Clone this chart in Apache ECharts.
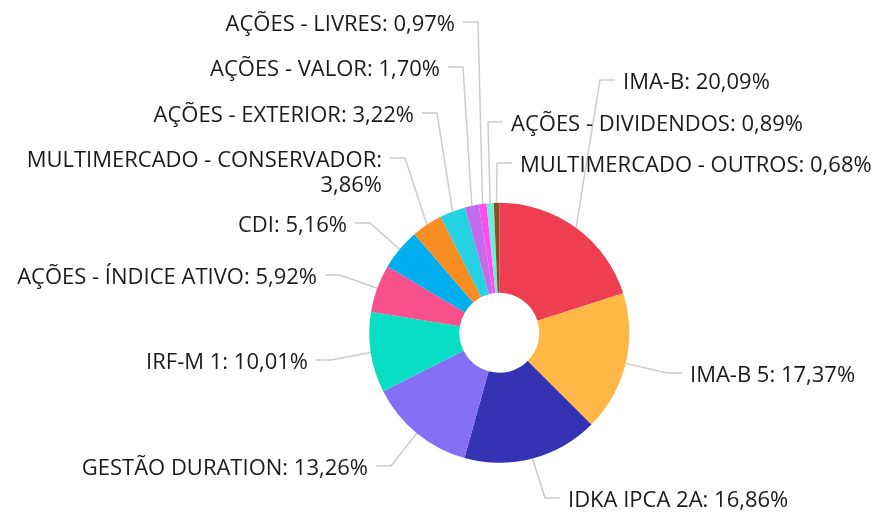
<!DOCTYPE html>
<html>
<head>
<meta charset="utf-8">
<style>
  html, body { margin: 0; padding: 0; background: #fff; }
  #chart { width: 876px; height: 512px; }
</style>
<script src="https://cdn.jsdelivr.net/npm/echarts@6/dist/echarts.min.js"></script>
</head>
<body>
<div id="chart"></div>
<script>
// Allocation by fund class, clockwise from 12 o'clock.
const CATEGORIES = [
  'IMA-B', 'IMA-B 5', 'IDKA IPCA 2A', 'GESTÃO DURATION', 'IRF-M 1',
  'AÇÕES - ÍNDICE ATIVO', 'CDI', 'MULTIMERCADO - CONSERVADOR',
  'AÇÕES - EXTERIOR', 'AÇÕES - VALOR', 'AÇÕES - LIVRES',
  'AÇÕES - DIVIDENDOS', 'MULTIMERCADO - OUTROS',
];
const SHARES = [20.09, 17.37, 16.86, 13.26, 10.01, 5.92, 5.16, 3.86, 3.22, 1.70, 0.97, 0.89, 0.68];

const COLORS = [
  '#EF3E52', '#FFB845', '#3333B3', '#8470F5', '#08DEC4', '#F7508A', '#00AEEF',
  '#F78C23', '#25D2E4', '#C46BEB', '#FF4BF0', '#6FEBD6', '#8B4D24',
];

const INK = '#1A1A1A';
const LINE = '#CCCCCC';
const FONT = 22;
const LINE_H = 25;

// Label callouts: where the connector ends (x, y) and which side the text sits.
// The source chart spreads labels in columns, which ECharts' own pie layout doesn't do.
const CALLOUTS = [
  [615, 80, 'R'], [682, 373, 'R'], [560, 498, 'R'], [376, 466, 'L'],
  [316, 360, 'L'], [325, 275, 'L'], [355, 223, 'L'], [390, 158, 'L'],
  [422, 113, 'L'], [448, 67, 'L'], [463, 22, 'L'], [503, 122, 'R'],
  [512, 163, 'R'],
];
const ARM = 15;  // horizontal leg of the connector
const GAP = 8;   // connector end to text

const fmt = v => v.toFixed(2).replace('.', ',') + '%';

const c = echarts.init(document.getElementById('chart'), null, { renderer: 'canvas' });
c.setOption({
  animation: false,
  textStyle: { fontFamily: 'Open Sans' },
  color: COLORS,
  series: [{
    type: 'pie',
    center: ['57%', '65%'],
    radius: [40, 130],
    startAngle: 90,
    clockwise: true,
    avoidLabelOverlap: false,
    label: {
      show: true,
      color: INK,
      fontSize: FONT,
      fontFamily: 'Open Sans',
      lineHeight: LINE_H,
      overflow: 'none',
      formatter: p => p.name + ':' + (p.name.length > 24 ? '\n' : ' ') + fmt(p.value),
    },
    labelLine: { show: true, length: 20, length2: 15, lineStyle: { color: LINE, width: 1.5 } },
    labelLayout: p => {
      const [ex, ey, side] = CALLOUTS[p.dataIndex];
      const start = p.labelLinePoints[0];
      const elbowX = side === 'R' ? ex - ARM : ex + ARM;
      const lines = p.labelRect.height > LINE_H * 1.5 ? 2 : 1;
      return {
        x: side === 'R' ? ex + GAP : ex - GAP,
        y: ey + 3 + (lines - 1) * LINE_H / 2,
        align: side === 'R' ? 'left' : 'right',
        verticalAlign: 'middle',
        labelLinePoints: [start, [elbowX, ey], [ex, ey]],
      };
    },
    data: CATEGORIES.map((name, i) => ({ name, value: SHARES[i] })),
  }],
});
</script>
</body>
</html>
